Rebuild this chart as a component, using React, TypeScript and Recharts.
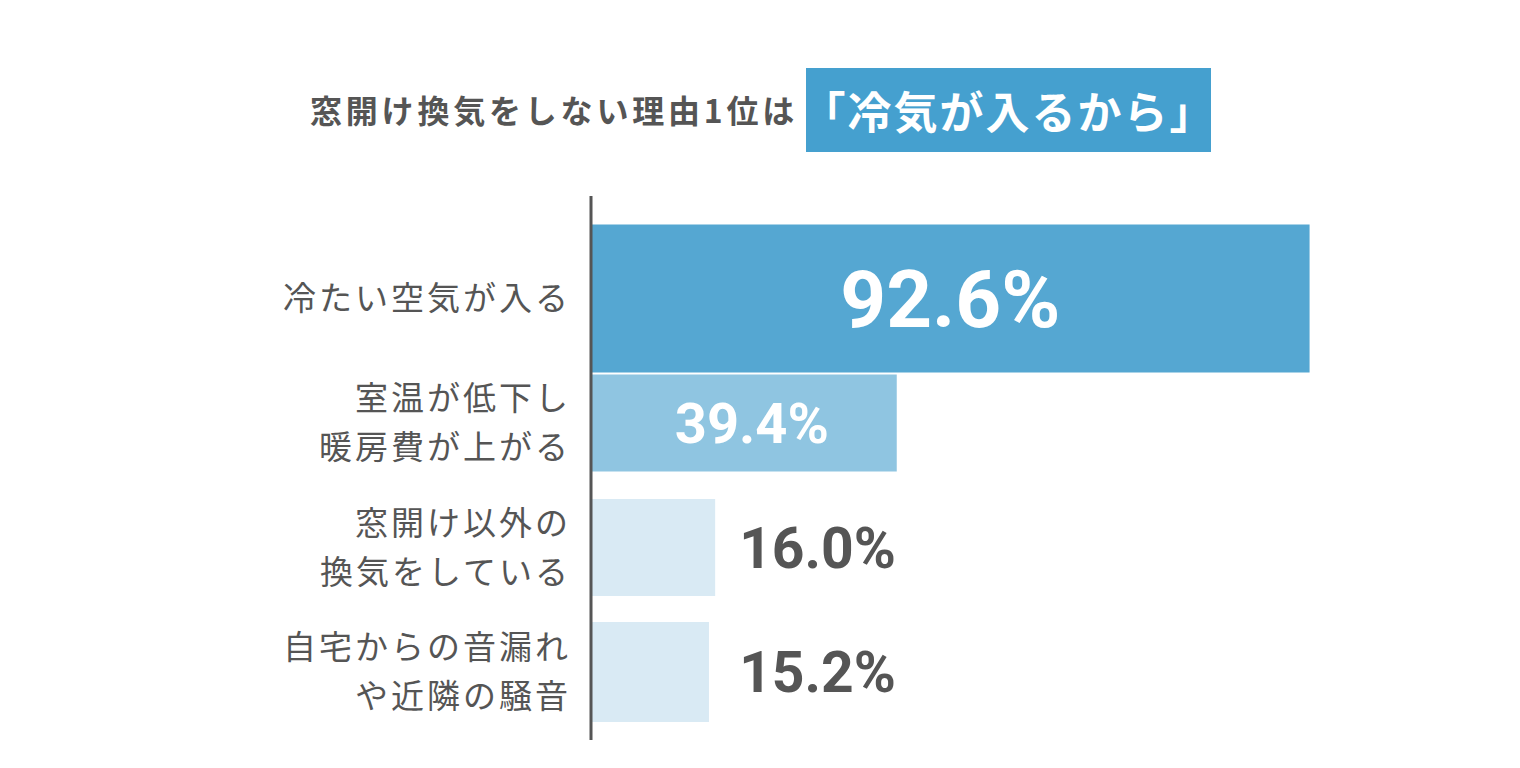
import { BarChart, Bar, XAxis, YAxis, LabelList } from 'recharts';

// reasons (each entry may hold two lines split by \n)
const categories = [
  '冷たい空気が入る',
  '室温が低下し\n暖房費が上がる',
  '窓開け以外の\n換気をしている',
  '自宅からの音漏れ\nや近隣の騒音',
];
const values = [92.6, 39.4, 16.0, 15.2];
const titleLead = '窓開け換気をしない理由1位は';
const titleHighlight = '「冷気が入るから」';

// styling per bar
const barColors = ['#55a7d2', '#8fc5e1', '#d9eaf4', '#d9eaf4'];
const barThickness = [148, 97, 97, 100];
const labelInside = [true, true, false, false];
const labelSizes = [80, 56, 57, 57];
const labelShift = [0, 8, 0, 0];

const TEXT = '#555555';
const JP = '"Noto Sans CJK JP", "Noto Sans", sans-serif';

const data = categories.map((name, i) => ({ name, value: values[i] }));
// outside labels line up after the longest outside bar
const maxOutside = Math.max(...values.filter((_, i) => !labelInside[i]));

const BarShape = (props: any) => {
  const { x, y, width, height, index } = props;
  const t = barThickness[index] ?? height;
  const cy = y + height / 2;
  return <rect x={x} y={cy - t / 2} width={width} height={t} fill={barColors[index]} />;
};

const CategoryTick = (props: any) => {
  const { x, y, payload } = props;
  const lines = String(payload.value).split('\n');
  const lh = 49;
  const start = y - ((lines.length - 1) * lh) / 2;
  const tx = x - 12;
  return (
    <text x={tx} y={start} textAnchor="end" fill={TEXT} fontSize={33} fontFamily={JP} letterSpacing={3}>
      {lines.map((line, i) => (
        <tspan key={i} x={tx} y={start + i * lh} dy="0.36em">
          {line}
        </tspan>
      ))}
    </text>
  );
};

const ValueLabel = (props: any) => {
  const { x, y, width, height, value, index } = props;
  const fs = labelSizes[index];
  const cy = y + height / 2;
  const inside = labelInside[index];
  const outX = x + (width * maxOutside) / Number(value) + 24;
  return (
    <text
      x={inside ? x + width / 2 + labelShift[index] : outX}
      y={cy + fs * 0.355}
      textAnchor={inside ? 'middle' : 'start'}
      fill={inside ? '#ffffff' : TEXT}
      fontSize={fs}
      fontWeight={700}
      fontFamily="Roboto, sans-serif"
    >
      {`${Number(value).toFixed(1)}%`}
    </text>
  );
};

export default function App() {
  return (
    <div style={{ position: 'absolute', left: 0, top: 0, width: 1520, height: 768, background: '#fff' }}>
      <div
        style={{
          position: 'absolute',
          left: 310,
          top: 87,
          height: 44,
          lineHeight: '44px',
          fontFamily: JP,
          fontWeight: 700,
          fontSize: 32,
          letterSpacing: 3.8,
          color: TEXT,
          whiteSpace: 'nowrap',
        }}
      >
        {titleLead}
      </div>
      <div
        style={{
          position: 'absolute',
          left: 806,
          top: 68,
          width: 405,
          height: 84,
          background: '#45a0cf',
          display: 'flex',
          alignItems: 'center',
          justifyContent: 'center',
          fontFamily: JP,
          fontWeight: 700,
          fontSize: 44,
          letterSpacing: 2,
          color: '#ffffff',
          whiteSpace: 'nowrap',
          overflow: 'visible',
        }}
      >
        {titleHighlight}
      </div>
      <BarChart
        width={1520}
        height={768}
        data={data}
        layout="vertical"
        margin={{ top: 196, right: 153, bottom: 28, left: 0 }}
        barSize={97}
      >
        <XAxis type="number" domain={[0, 100]} hide />
        <YAxis
          type="category"
          dataKey="name"
          width={591}
          padding={{ top: 40, bottom: 6 }}
          axisLine={{ stroke: TEXT, strokeWidth: 3 }}
          tickLine={false}
          tick={<CategoryTick />}
          interval={0}
        />
        <Bar dataKey="value" shape={<BarShape />} isAnimationActive={false}>
          <LabelList dataKey="value" content={<ValueLabel />} />
        </Bar>
      </BarChart>
    </div>
  );
}
